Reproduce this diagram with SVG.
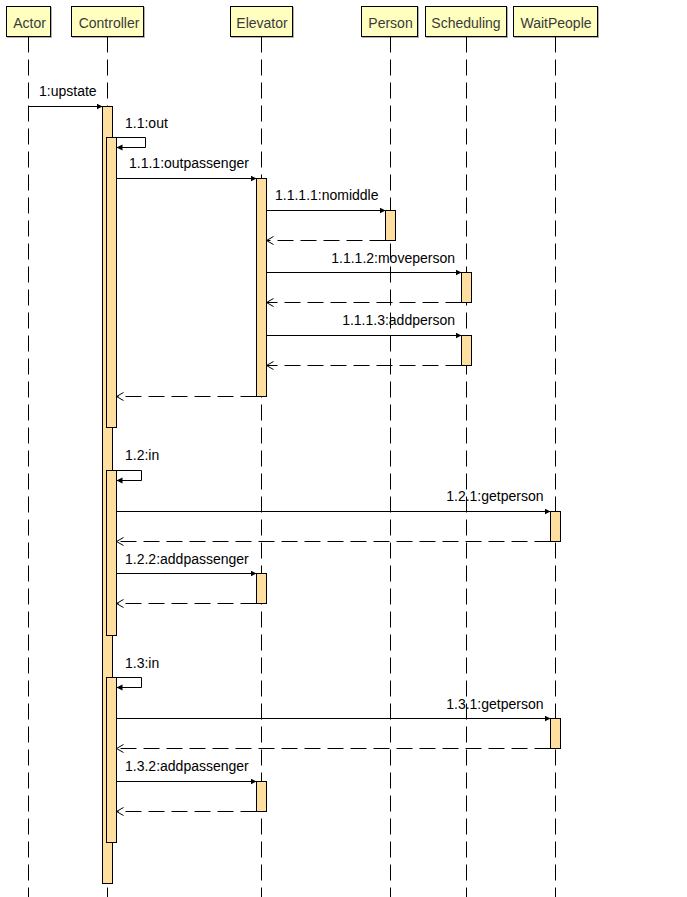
<svg xmlns="http://www.w3.org/2000/svg" width="687" height="897" viewBox="0 0 687 897">
<style>
.hdr{fill:#FFFFC0;stroke:#000;stroke-width:1}
.shd{fill:none;stroke:#B0B0B0;stroke-width:1}
.ht{font-family:"Liberation Sans",Arial,sans-serif;font-size:14px;fill:#3A3A3A;text-anchor:middle}
.ml{font-family:"Liberation Sans",Arial,sans-serif;font-size:14px;fill:#000}
.life{stroke:#000;stroke-width:1;stroke-dasharray:16 7;fill:none}
.act{fill:#FFDFA0;stroke:#000;stroke-width:1}
.msg{stroke:#000;stroke-width:1;fill:none;marker-end:url(#fa)}
.ret{stroke:#000;stroke-width:1;fill:none;stroke-dasharray:16 7;marker-end:url(#oa)}
</style>
<defs>
<marker id="fa" markerUnits="userSpaceOnUse" markerWidth="7" markerHeight="7" refX="6" refY="3" orient="auto"><path d="M0,0 L6,3 L0,6 z" fill="#000"/></marker>
<marker id="oa" markerUnits="userSpaceOnUse" markerWidth="9" markerHeight="10" refX="7.5" refY="4.5" orient="auto"><path d="M0.5,0.5 L7.5,4.5 L0.5,8.5" fill="none" stroke="#000" stroke-width="1"/></marker>
</defs>
<rect width="687" height="897" fill="#fff"/>

<g id="labels">
<text class="ml" x="39" y="96">1:upstate</text>
<text class="ml" x="125" y="128">1.1:out</text>
<text class="ml" x="129" y="168">1.1.1:outpassenger</text>
<text class="ml" x="275" y="199.5">1.1.1.1:nomiddle</text>
<text class="ml" x="455" y="263" text-anchor="end">1.1.1.2:moveperson</text>
<text class="ml" x="455" y="325" text-anchor="end">1.1.1.3:addperson</text>
<text class="ml" x="125" y="460">1.2:in</text>
<text class="ml" x="543.5" y="501" text-anchor="end">1.2.1:getperson</text>
<text class="ml" x="125" y="563.5">1.2.2:addpassenger</text>
<text class="ml" x="125" y="667.5">1.3:in</text>
<text class="ml" x="543.5" y="708.5" text-anchor="end">1.3.1:getperson</text>
<text class="ml" x="125" y="770.5">1.3.2:addpassenger</text>
</g>

<g id="Actor">
<rect class="shd" x="7.5" y="7.5" width="44" height="30"/>
<rect class="hdr" x="6.5" y="6.5" width="44" height="30"/>
<text class="ht" x="29.5" y="28">Actor</text>
<line class="life" x1="28.5" y1="36.5" x2="28.5" y2="897"/>
</g>
<g id="Controller">
<rect class="shd" x="72.5" y="7.5" width="72" height="30"/>
<rect class="hdr" x="71.5" y="6.5" width="72" height="30"/>
<text class="ht" x="109" y="28">Controller</text>
<line class="life" x1="107.5" y1="36.5" x2="107.5" y2="897"/>
<rect class="act" x="102.5" y="106.5" width="10" height="777"/>
<rect class="act" x="106.5" y="137.5" width="10" height="290"/>
<rect class="act" x="106.5" y="470.5" width="10" height="165"/>
<rect class="act" x="106.5" y="677.5" width="10" height="165"/>
</g>
<g id="Elevator">
<rect class="shd" x="231.5" y="7.5" width="62" height="30"/>
<rect class="hdr" x="230.5" y="6.5" width="62" height="30"/>
<text class="ht" x="262" y="28">Elevator</text>
<line class="life" x1="261.5" y1="36.5" x2="261.5" y2="897"/>
<rect class="act" x="256.5" y="178.5" width="10" height="218"/>
<rect class="act" x="256.5" y="573.5" width="10" height="30"/>
<rect class="act" x="256.5" y="781.5" width="10" height="30"/>
</g>
<g id="Person">
<rect class="shd" x="362.5" y="7.5" width="56" height="30"/>
<rect class="hdr" x="361.5" y="6.5" width="56" height="30"/>
<text class="ht" x="390.5" y="28">Person</text>
<line class="life" x1="390.5" y1="36.5" x2="390.5" y2="897"/>
<rect class="act" x="385.5" y="210.5" width="10" height="30"/>
</g>
<g id="Scheduling">
<rect class="shd" x="426.5" y="7.5" width="81" height="30"/>
<rect class="hdr" x="425.5" y="6.5" width="81" height="30"/>
<text class="ht" x="466" y="28">Scheduling</text>
<line class="life" x1="466.5" y1="36.5" x2="466.5" y2="897"/>
<rect class="act" x="461.5" y="272.5" width="10" height="30"/>
<rect class="act" x="461.5" y="335.5" width="10" height="30"/>
</g>
<g id="WaitPeople">
<rect class="shd" x="514.5" y="7.5" width="84" height="30"/>
<rect class="hdr" x="513.5" y="6.5" width="84" height="30"/>
<text class="ht" x="556" y="28">WaitPeople</text>
<line class="life" x1="555.5" y1="36.5" x2="555.5" y2="897"/>
<rect class="act" x="550.5" y="511.5" width="10" height="30"/>
<rect class="act" x="550.5" y="718.5" width="10" height="30"/>
</g>

<g id="connectors">
<path class="msg" d="M28.5,106.5 H102.5"/>
<path class="msg" d="M112.5,137.5 H145.5 V147.5 H116.5"/>
<path class="msg" d="M116.5,178.5 H256.5"/>
<path class="msg" d="M266.5,210.5 H385.5"/>
<path class="ret" d="M385.5,240.5 H266.5"/>
<path class="msg" d="M266.5,272.5 H461.5"/>
<path class="ret" d="M461.5,302.5 H266.5"/>
<path class="msg" d="M266.5,335.5 H461.5"/>
<path class="ret" d="M461.5,365.5 H266.5"/>
<path class="ret" d="M256.5,396.5 H116.5"/>
<path class="msg" d="M112.5,470.5 H141.5 V480.5 H116.5"/>
<path class="msg" d="M116.5,511.5 H550.5"/>
<path class="ret" d="M550.5,541.5 H116.5"/>
<path class="msg" d="M116.5,573.5 H256.5"/>
<path class="ret" d="M256.5,603.5 H116.5"/>
<path class="msg" d="M112.5,677.5 H141.5 V687.5 H116.5"/>
<path class="msg" d="M116.5,718.5 H550.5"/>
<path class="ret" d="M550.5,748.5 H116.5"/>
<path class="msg" d="M116.5,781.5 H256.5"/>
<path class="ret" d="M256.5,811.5 H116.5"/>
</g>
</svg>
